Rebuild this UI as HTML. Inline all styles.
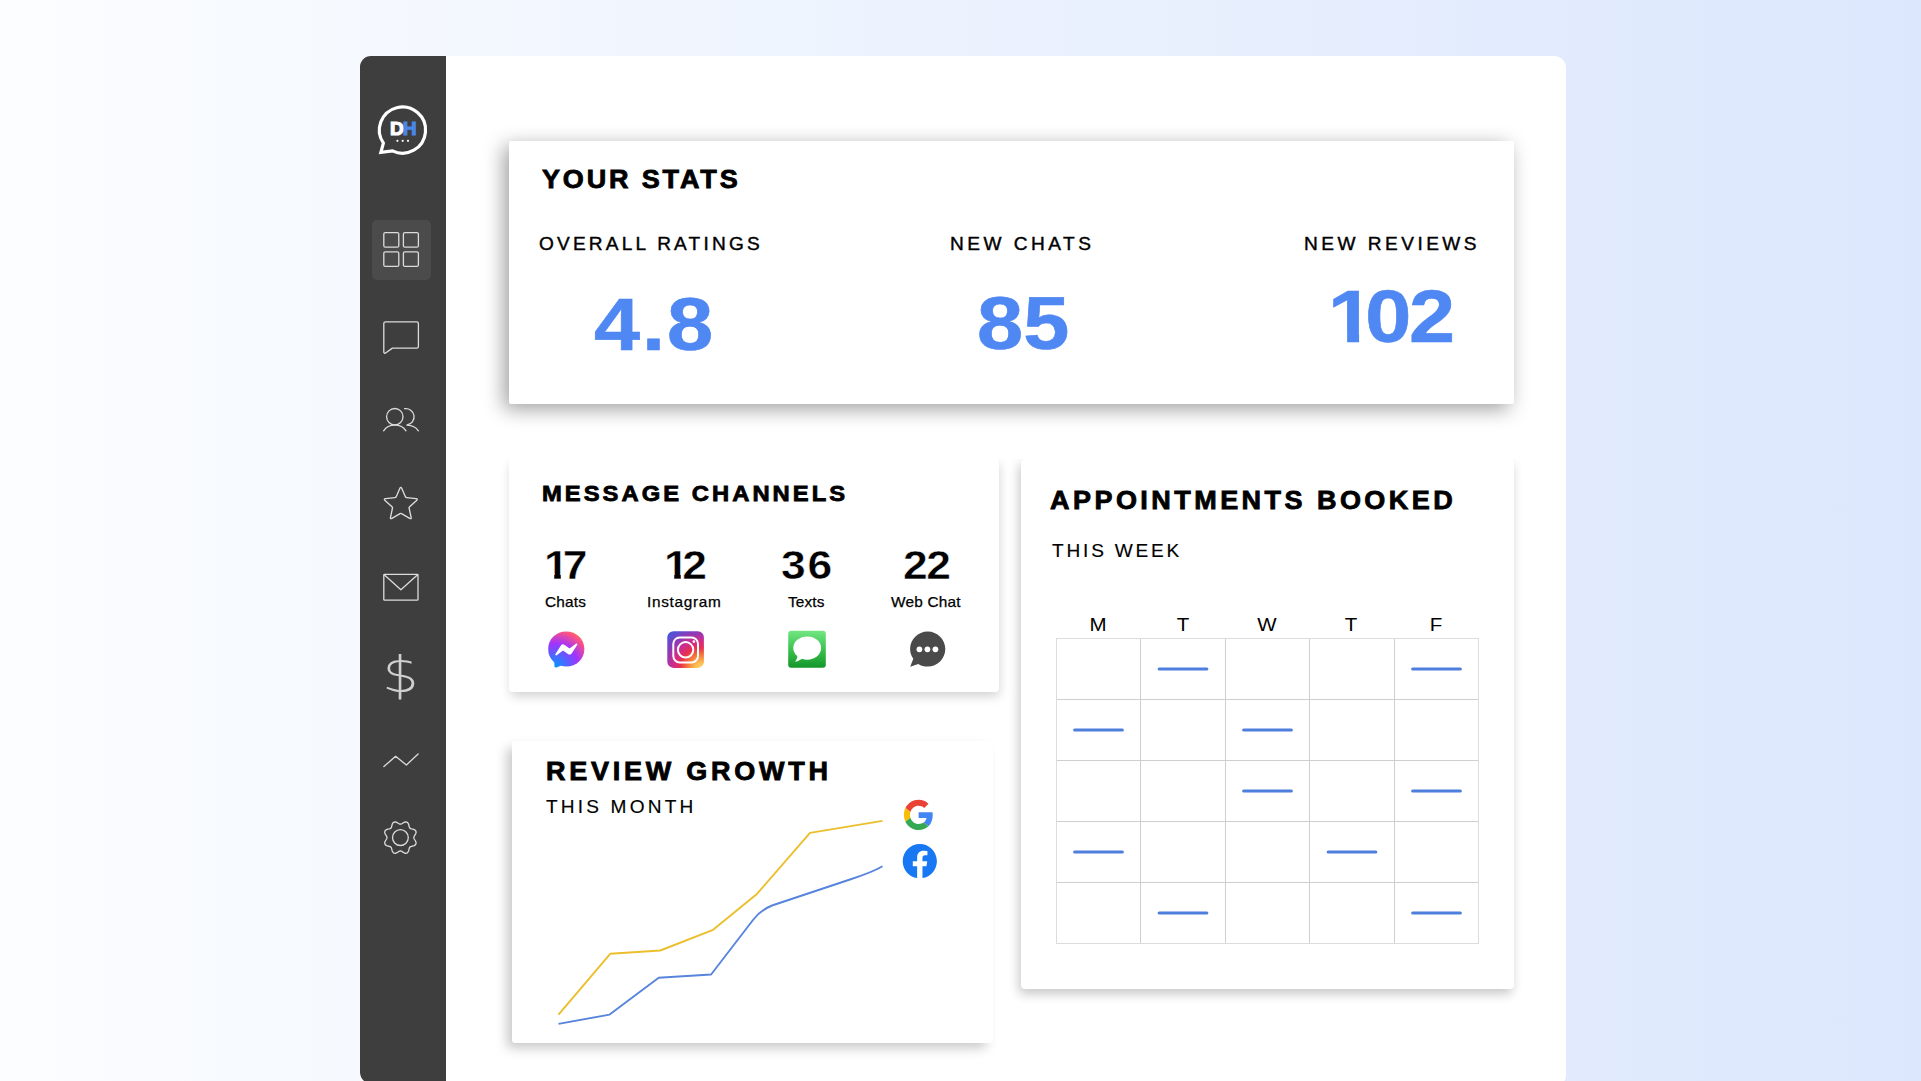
<!DOCTYPE html>
<html lang="en"><head><meta charset="utf-8"><title>Dashboard</title>
<style>
*{box-sizing:border-box;margin:0;padding:0}
html,body{width:1921px;height:1081px;overflow:hidden}
body{position:relative;font-family:"Liberation Sans",sans-serif;color:#000;background:linear-gradient(90deg,#fbfdff 0%,#edf3fe 46%,#dce7fd 100%)}
.abs{position:absolute}
.panel{position:absolute;left:360.3px;top:56px;width:1205.7px;height:1031px;background:#fff;border-radius:12px}
.side{position:absolute;left:360.3px;top:56px;width:86px;height:1028px;background:#3e3e3e;border-radius:11px 0 4px 12px}
.active{position:absolute;left:371.5px;top:220px;width:59.5px;height:59.5px;background:#4b4b4b;border-radius:5px}
.card{position:absolute;background:#fff;border-radius:4px}
.t{position:absolute;white-space:nowrap;line-height:1}
.t{transform-origin:0 0}
.h{font-weight:700;-webkit-text-stroke:0.8px #000;transform:scaleX(1.08)}
.lbl{font-weight:400;-webkit-text-stroke:0.4px #000;transform:scaleX(1.06)}
.sub{font-weight:400;-webkit-text-stroke:0.15px #000;transform:scaleX(1.06)}
.num{font-weight:700;color:#4f87f3;-webkit-text-stroke:0.6px #4f87f3;transform:scaleX(1.12)}
.cn{font-weight:700;-webkit-text-stroke:0.45px #fff;transform:scaleX(1.1)}
.day{transform:scaleX(1.14);transform-origin:50% 0}
.one{display:inline-block;clip-path:polygon(0 0,.377em 0,.377em 100%,.231em 100%,.231em .70em,0 .70em);margin-right:-.075em}
.cn .one{margin-right:-.115em}
.cl{font-weight:400;-webkit-text-stroke:0.25px #000;transform:scaleX(1.06)}
svg{position:absolute;overflow:visible}
</style></head><body>
<div class="panel"></div>
<div class="side"></div>
<div class="active"></div>

<!-- sidebar icons -->
<svg id="icons" style="left:0;top:0" width="1921" height="1081" viewBox="0 0 1921 1081" fill="none" stroke="#dcdcdc" stroke-width="1.3" stroke-linecap="round" stroke-linejoin="round">
 <!-- logo bubble -->
 <path d="M383.4 143.1 A23.1 23.1 0 1 1 392.5 150.9 L380.9 152.4 Z" stroke="#fff" stroke-width="3.2" stroke-linejoin="miter"/>
 <circle cx="397.4" cy="140.8" r="1.1" fill="#fff" stroke="none"/><circle cx="402.7" cy="140.8" r="1.1" fill="#fff" stroke="none"/><circle cx="408" cy="140.8" r="1.1" fill="#fff" stroke="none"/>
 <!-- dashboard grid -->
 <rect x="383.8" y="232.6" width="15" height="14.6" rx="1.5"/><rect x="403.4" y="232.6" width="15" height="14.6" rx="1.5"/>
 <rect x="383.8" y="251.8" width="15" height="14.6" rx="1.5"/><rect x="403.4" y="251.8" width="15" height="14.6" rx="1.5"/>
 <!-- chat -->
 <path d="M385.3 321.8 H416.8 a1.6 1.6 0 0 1 1.6 1.6 V346.5 a1.6 1.6 0 0 1 -1.6 1.6 H392.4 L385.6 353 a1.1 1.1 0 0 1 -1.8 -0.9 V323.4 a1.6 1.6 0 0 1 1.6 -1.6Z"/>
 <!-- people -->
 <circle cx="394.8" cy="416.7" r="8.2"/>
 <path d="M383.6 430.8 C386 427.2 390 425.2 394.8 425.2 C399.6 425.2 403.6 427.2 406 430.8"/>
 <path d="M404.6 408.7 A8.2 8.2 0 0 1 407.2 424.9"/>
 <path d="M407.2 425.2 C412 425.4 416 427.4 418.4 430.8"/>
 <!-- star -->
 <path d="M399.9 488.3Q400.8 486.3 401.7 488.3L405.5 496.9Q405.9 497.6 406.7 497.7L416.0 498.7Q418.2 498.9 416.6 500.4L409.6 506.7Q409.0 507.3 409.1 508.0L411.1 517.3Q411.6 519.4 409.7 518.3L401.5 513.6Q400.8 513.2 400.1 513.6L391.9 518.3Q390.0 519.4 390.5 517.3L392.5 508.0Q392.6 507.3 392.0 506.7L385.0 500.4Q383.4 498.9 385.6 498.7L394.9 497.7Q395.7 497.6 396.1 496.9Z" stroke-width="1.35"/>
 <!-- mail -->
 <rect x="383.8" y="574.4" width="34.2" height="25.8" rx="0.8"/>
 <path d="M384.2 574.8 L400.9 589.8 L417.6 574.8"/>
 <!-- trend -->
 <path d="M383.9 766.6 L395.6 756.3 L406.4 765 L418.1 754"/>
 <!-- gear -->
 <path transform="translate(400.4 837.6)" d="M0.0 -13.4L0.9 -13.6L1.9 -14.1L2.9 -14.8L4.1 -15.4L5.3 -15.7L6.4 -15.5L7.3 -14.9L8.0 -13.8L8.4 -12.6L8.7 -11.3L9.0 -10.2L9.5 -9.5L10.2 -9.0L11.3 -8.7L12.6 -8.4L13.8 -8.0L14.9 -7.3L15.5 -6.4L15.7 -5.3L15.4 -4.1L14.8 -2.9L14.1 -1.9L13.6 -0.9L13.4 -0.0L13.6 0.9L14.1 1.9L14.8 2.9L15.4 4.1L15.7 5.3L15.5 6.4L14.9 7.3L13.8 8.0L12.6 8.4L11.3 8.7L10.2 9.0L9.5 9.5L9.0 10.2L8.7 11.3L8.4 12.6L8.0 13.8L7.3 14.9L6.4 15.5L5.3 15.7L4.1 15.4L2.9 14.8L1.9 14.1L0.9 13.6L0.0 13.4L-0.9 13.6L-1.9 14.1L-2.9 14.8L-4.1 15.4L-5.3 15.7L-6.4 15.5L-7.3 14.9L-8.0 13.8L-8.4 12.6L-8.7 11.3L-9.0 10.2L-9.5 9.5L-10.2 9.0L-11.3 8.7L-12.6 8.4L-13.8 8.0L-14.9 7.3L-15.5 6.4L-15.7 5.3L-15.4 4.1L-14.8 2.9L-14.1 1.9L-13.6 0.9L-13.4 0.0L-13.6 -0.9L-14.1 -1.9L-14.8 -2.9L-15.4 -4.1L-15.7 -5.3L-15.5 -6.4L-14.9 -7.3L-13.8 -8.0L-12.6 -8.4L-11.3 -8.7L-10.2 -9.0L-9.5 -9.5L-9.0 -10.2L-8.7 -11.3L-8.4 -12.6L-8.0 -13.8L-7.3 -14.9L-6.4 -15.5L-5.3 -15.7L-4.1 -15.4L-2.9 -14.8L-1.9 -14.1L-0.9 -13.6Z"/>
 <circle cx="400.4" cy="837.6" r="7.9"/>
</svg>
<div class="t" id="logoD" style="left:389.6px;top:120.1px;font-size:18.4px;font-weight:700;color:#fff;-webkit-text-stroke:1.15px #fff;letter-spacing:-1.0px;transform:scaleX(1.04)">D<span style="color:#4a86e8;-webkit-text-stroke:1.15px #4a86e8">H</span></div>
<div class="t" id="dollar" style="left:382.1px;top:650.3px;font-family:'DejaVu Sans Light','DejaVu Sans',sans-serif;font-weight:200;font-size:46px;color:#cfcfcf;transform:scale(1.26,1.065);letter-spacing:0px">$</div>

<!-- STATS CARD -->
<div class="card" id="c1" style="left:509.3px;top:141px;width:1004.5px;height:262.7px;border-radius:2px;box-shadow:-5px 5px 20px rgba(0,0,0,.38)"></div>
<div class="t h" id="t_stats" style="left:542.0px;top:167.1px;font-size:25px;letter-spacing:2.64px">YOUR STATS</div>
<div class="t lbl" id="t_or" style="left:539px;top:235.1px;font-size:18px;letter-spacing:3.01px">OVERALL RATINGS</div>
<div class="t lbl" id="t_nc" style="left:949.8px;top:234.9px;font-size:18px;letter-spacing:3.28px">NEW CHATS</div>
<div class="t lbl" id="t_nr" style="left:1303.6px;top:234.9px;font-size:18px;letter-spacing:3.28px">NEW REVIEWS</div>
<div class="t num" id="n1" style="left:594.1px;top:287.6px;font-size:74px;letter-spacing:1.71px">4.8</div>
<div class="t num" id="n2" style="left:977px;top:287.4px;font-size:74px;letter-spacing:0.16px">85</div>
<div class="t num" id="n3" style="left:1328px;top:279.5px;font-size:74px;letter-spacing:-2.25px"><span class="one">1</span>02</div>

<!-- MESSAGE CHANNELS -->
<div class="card" id="c2" style="left:509px;top:458px;width:489.7px;height:233.8px;border-radius:4px;box-shadow:1px 5px 11px -1px rgba(0,0,0,.19);clip-path:inset(0 -30px -30px -30px)"></div>
<div class="t h" id="t_mc" style="left:541.6px;top:483.2px;font-size:22px;letter-spacing:2.82px">MESSAGE CHANNELS</div>
<div class="t cn" id="m1" style="left:543.5px;top:544.6px;font-size:40.4px;letter-spacing:-0.77px"><span class="one">1</span>7</div>
<div class="t cn" id="m2" style="left:664px;top:545.4px;font-size:40.4px;letter-spacing:-1.18px"><span class="one">1</span>2</div>
<div class="t cn" id="m3" style="left:781.2px;top:545px;font-size:40.4px;letter-spacing:1.64px">36</div>
<div class="t cn" id="m4" style="left:903.3px;top:545.2px;font-size:40.4px;letter-spacing:-1.33px">22</div>
<div class="t cl" id="l1" style="left:544.6px;top:595.0px;font-size:14.5px;letter-spacing:0.19px">Chats</div>
<div class="t cl" id="l2" style="left:647.1px;top:594.9px;font-size:14.5px;letter-spacing:0.64px">Instagram</div>
<div class="t cl" id="l3" style="left:788.1px;top:594.8px;font-size:14.5px;letter-spacing:0.13px">Texts</div>
<div class="t cl" id="l4" style="left:890.6px;top:595.3px;font-size:14.5px;letter-spacing:0.2px">Web Chat</div>


<!-- channel icons -->
<svg id="chan" style="left:0;top:0" width="1921" height="1081" viewBox="0 0 1921 1081">
 <defs>
  <radialGradient id="gm" cx="0.19" cy="0.99" r="1.09" gradientUnits="objectBoundingBox">
   <stop offset="0" stop-color="#0099ff"/><stop offset="0.6" stop-color="#a033ff"/><stop offset="0.93" stop-color="#ff5280"/><stop offset="1" stop-color="#ff7061"/>
  </radialGradient>
  <radialGradient id="gi" cx="0.92" cy="1.02" r="1.25" gradientUnits="objectBoundingBox">
   <stop offset="0" stop-color="#fdd367"/><stop offset="0.12" stop-color="#fcc055"/><stop offset="0.3" stop-color="#f5793a"/><stop offset="0.45" stop-color="#e8304f"/><stop offset="0.62" stop-color="#cf2c8e"/><stop offset="0.8" stop-color="#8a3ab9"/><stop offset="1" stop-color="#4c55d8"/>
  </radialGradient>
  <linearGradient id="gt" x1="0" y1="0" x2="0" y2="1"><stop offset="0" stop-color="#72e682"/><stop offset="0.5" stop-color="#3cc250"/><stop offset="1" stop-color="#14962a"/></linearGradient>
 </defs>
 <!-- messenger -->
 <g transform="translate(548.2 631.4) scale(1.508)">
  <path fill="url(#gm)" d="M.001 11.639C.001 4.949 5.241 0 12.001 0S24 4.95 24 11.639c0 6.689-5.24 11.638-12 11.638-1.21 0-2.38-.16-3.47-.46a.96.96 0 00-.64.05l-2.39 1.05a.96.96 0 01-1.35-.85l-.07-2.14a.97.97 0 00-.32-.68A11.39 11.389 0 01.002 11.64z"/>
  <path fill="#fff" d="M8.321 9.449l-3.52 5.6c-.35.53.32 1.139.82.75l3.79-2.87c.26-.2.6-.2.87 0l2.8 2.1c.84.63 2.04.4 2.6-.48l3.52-5.6c.35-.53-.32-1.13-.82-.75l-3.79 2.87c-.25.2-.6.2-.86 0l-2.8-2.1a1.8 1.8 0 00-2.61.48z"/>
 </g>
 <!-- instagram -->
 <rect x="667.3" y="631.2" width="36.6" height="36.7" rx="6.2" fill="url(#gi)"/>
 <rect x="673.3" y="637.5" width="24.7" height="24.9" rx="6.4" fill="none" stroke="#fff" stroke-width="2"/>
 <circle cx="685.6" cy="649.8" r="7.7" fill="none" stroke="#fff" stroke-width="2"/>
 <circle cx="693.9" cy="641.6" r="1.35" fill="#fff"/>
 <!-- texts -->
 <rect x="788.2" y="630.8" width="37.6" height="37" rx="3" fill="url(#gt)"/>
 <ellipse cx="807.2" cy="648.1" rx="13.9" ry="11.7" fill="#fff"/><path fill="#fff" d="M797.6 655.5c-.2 2.300-1.100 4.400-2.500 6.200 3.200-.400 5.900-1.700 7.800-3.600z"/>
 <!-- web chat -->
 <path fill="#4a4a4a" d="M927.7 631.4c9.700 0 17.600 7.900 17.600 17.600s-7.900 17.600-17.600 17.600c-3.500 0-6.700-1.000-9.400-2.700l-8.100 2.900 3.100-8.000c-2.000-2.800-3.200-6.200-3.200-9.800 0-9.700 7.900-17.600 17.600-17.600z"/>
 <circle cx="919.4" cy="649.3" r="2.9" fill="#fff"/><circle cx="927.4" cy="649.3" r="2.9" fill="#fff"/><circle cx="935.4" cy="649.3" r="2.9" fill="#fff"/>
</svg>

<!-- REVIEW GROWTH -->
<div class="card" id="c3" style="left:512px;top:740.5px;width:481px;height:302.9px;border-radius:3px;box-shadow:-6px 6px 12px -1px rgba(0,0,0,.22)"></div>
<div class="t h" id="t_rg" style="left:545.8px;top:758.9px;font-size:25px;letter-spacing:3.47px">REVIEW GROWTH</div>
<div class="t sub" id="t_tm" style="left:546.2px;top:797.6px;font-size:18px;letter-spacing:2.99px">THIS MONTH</div>


<svg id="chart" style="left:0;top:0" width="1921" height="1081" viewBox="0 0 1921 1081" fill="none">
 <path d="M558.5 1014.6 L610.2 953.8 L660.3 950.5 L713.1 929.8 L757.2 893.7 L810 832.9 L882.5 820.9" stroke="#ebbf2c" stroke-width="1.9" stroke-linejoin="round"/>
 <path d="M558.5 1023.9 L609.6 1014.6 L658.7 977.8 L711.1 974.5 L753 920 Q760 910.5 772 905.5 L850 879.5 Q872 872.5 882.5 866.3" stroke="#5784dc" stroke-width="1.9" stroke-linejoin="round"/>
 <!-- google -->
 <g transform="translate(903.9 799.7) scale(0.6135 0.631)">
  <path fill="#EA4335" d="M24 9.5c3.54 0 6.71 1.22 9.21 3.6l6.85-6.85C35.9 2.38 30.47 0 24 0 14.62 0 6.51 5.38 2.56 13.22l7.98 6.19C12.43 13.72 17.74 9.5 24 9.5z"/>
  <path fill="#4285F4" d="M46.98 24.55c0-1.57-.15-3.09-.38-4.55H24v9.02h12.94c-.58 2.96-2.26 5.48-4.78 7.18l7.73 6c4.51-4.18 7.09-10.36 7.09-17.65z"/>
  <path fill="#FBBC05" d="M10.53 28.59c-.48-1.45-.76-2.99-.76-4.59s.27-3.14.76-4.59l-7.98-6.19C.92 16.46 0 20.12 0 24c0 3.88.92 7.54 2.56 10.78l7.97-6.19z"/>
  <path fill="#34A853" d="M24 48c6.48 0 11.93-2.13 15.89-5.81l-7.73-6c-2.15 1.45-4.92 2.3-8.16 2.3-6.26 0-11.57-4.22-13.47-9.91l-7.98 6.19C6.51 42.62 14.62 48 24 48z"/>
 </g>
 <!-- facebook -->
 <g transform="translate(902.7 844.0) scale(1.425)">
  <circle cx="12" cy="12.07" r="11.9" fill="#fff"/>
  <path fill="#1877F2" d="M24 12.073c0-6.627-5.373-12-12-12s-12 5.373-12 12c0 5.99 4.388 10.954 10.125 11.854v-8.385H7.078v-3.47h3.047V9.43c0-3.007 1.792-4.669 4.533-4.669 1.312 0 2.686.235 2.686.235v2.953H15.83c-1.491 0-1.956.925-1.956 1.874v2.25h3.328l-.532 3.47h-2.796v8.385C19.612 23.027 24 18.062 24 12.073z"/>
 </g>
</svg>

<!-- APPOINTMENTS -->
<div class="card" id="c4" style="left:1021px;top:459px;width:493px;height:530px;border-radius:4px;box-shadow:-2px 5px 11px rgba(0,0,0,.22);clip-path:inset(0 -30px -30px -30px)"></div>
<div class="t h" id="t_ab" style="left:1050.2px;top:488.2px;font-size:25px;letter-spacing:3.2px">APPOINTMENTS BOOKED</div>
<div class="t sub" id="t_tw" style="left:1051.6px;top:542.4px;font-size:18px;letter-spacing:2.64px">THIS WEEK</div>
<svg id="cal" style="left:0;top:0" width="1921" height="1081" viewBox="0 0 1921 1081" fill="none">
 <g stroke="#cfcfcf" stroke-width="1">
  <path d="M1140.5 638.5V943.5"/>
  <path d="M1225.5 638.5V943.5"/>
  <path d="M1309.5 638.5V943.5"/>
  <path d="M1394.5 638.5V943.5"/>
  <path d="M1056.5 699.5H1478.5"/>
  <path d="M1056.5 760.5H1478.5"/>
  <path d="M1056.5 821.5H1478.5"/>
  <path d="M1056.5 882.5H1478.5"/>
 </g>
 <rect x="1056.5" y="638.5" width="422.0" height="305.0" stroke="#dcdcdc" stroke-width="1"/>
 <g stroke="#4f7fdc" stroke-width="3.2" stroke-linecap="round">
  <path d="M1159.2 669.0H1206.8"/>
  <path d="M1412.7 669.0H1460.3"/>
  <path d="M1074.7 730.0H1122.3"/>
  <path d="M1243.7 730.0H1291.3"/>
  <path d="M1243.7 791.0H1291.3"/>
  <path d="M1412.7 791.0H1460.3"/>
  <path d="M1074.7 852.0H1122.3"/>
  <path d="M1328.2 852.0H1375.8"/>
  <path d="M1159.2 913.0H1206.8"/>
  <path d="M1412.7 913.0H1460.3"/>
 </g>
</svg>
<div class="t day" id="d0" style="left:1088.2px;top:616px;width:20px;text-align:center;font-size:18px">M</div>
<div class="t day" id="d1" style="left:1172.7px;top:616px;width:20px;text-align:center;font-size:18px">T</div>
<div class="t day" id="d2" style="left:1257.2px;top:616px;width:20px;text-align:center;font-size:18px">W</div>
<div class="t day" id="d3" style="left:1340.9px;top:616px;width:20px;text-align:center;font-size:18px">T</div>
<div class="t day" id="d4" style="left:1426.3px;top:616px;width:20px;text-align:center;font-size:18px">F</div>
</body></html>
